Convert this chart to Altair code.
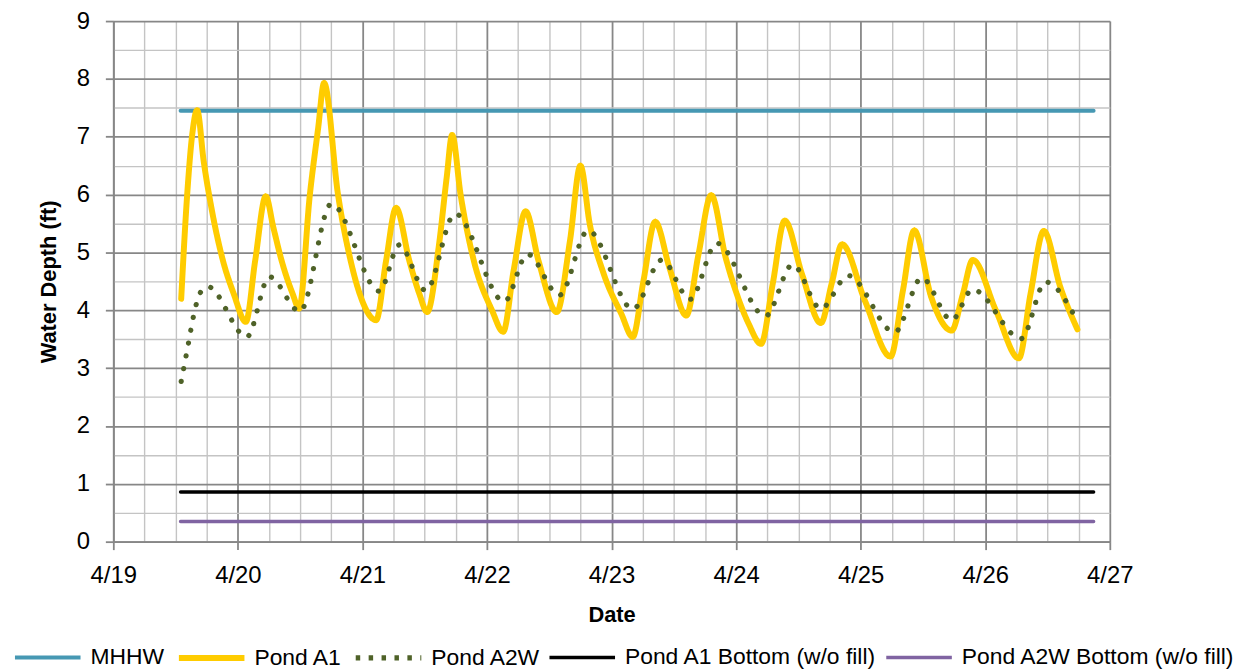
import altair as alt
import pandas as pd

# ---------------- data ----------------
series_names = ["MHHW", "Pond A1", "Pond A2W",
                "Pond A1 Bottom (w/o fill)", "Pond A2W Bottom (w/o fill)"]
series_colors = ["#4698B3", "#FFCC00", "#4F6228", "#000000", "#8064A2"]

# days after 4/19 00:00
a1_day = [0.545, 0.593, 0.633, 0.673, 0.726, 0.793, 0.880, 0.966, 1.064, 1.139,
          1.224, 1.285, 1.351, 1.439, 1.492, 1.578, 1.644, 1.692, 1.804, 1.905,
          1.977, 2.110, 2.190, 2.270, 2.376, 2.456, 2.520, 2.615, 2.676, 2.720,
          2.788, 2.894, 3.040, 3.130, 3.214, 3.310, 3.413, 3.560, 3.666, 3.750,
          3.825, 3.937, 4.078, 4.170, 4.256, 4.350, 4.464, 4.600, 4.698, 4.800,
          4.916, 4.996, 5.100, 5.200, 5.294, 5.390, 5.528, 5.680, 5.767, 5.850,
          6.033, 6.240, 6.339, 6.430, 6.566, 6.730, 6.818, 6.900, 7.085, 7.270,
          7.364, 7.470, 7.603, 7.740]
a1_val = [4.20, 6.00, 7.03, 7.46, 6.57, 5.71, 4.86, 4.29, 3.80, 4.86,
          5.97, 5.43, 4.86, 4.29, 4.03, 6.00, 7.14, 7.93, 6.00, 4.86,
          4.29, 3.83, 4.86, 5.77, 4.86, 4.29, 3.97, 5.14, 6.29, 7.03,
          6.00, 4.86, 4.00, 3.63, 4.69, 5.71, 4.86, 3.97, 5.20, 6.50,
          5.49, 4.63, 3.94, 3.54, 4.51, 5.53, 4.74, 3.91, 4.97, 5.99,
          4.91, 4.34, 3.77, 3.42, 4.46, 5.55, 4.63, 3.78, 4.46, 5.14,
          4.17, 3.20, 4.34, 5.38, 4.23, 3.65, 4.26, 4.87, 4.00, 3.17,
          4.29, 5.37, 4.40, 3.67]

a2w_day = [0.545, 0.604, 0.641, 0.697, 0.758, 1.072, 1.253, 1.498, 1.750, 2.136,
           2.296, 2.509, 2.743, 3.139, 3.325, 3.581, 3.812, 4.171, 4.403, 4.631,
           4.844, 5.235, 5.453, 5.680, 5.900, 6.273, 6.490, 6.730, 6.898, 7.289,
           7.484, 7.728]
a2w_val = [2.77, 3.44, 3.87, 4.30, 4.41, 3.54, 4.58, 3.98, 5.84, 4.33,
           5.13, 4.34, 5.67, 4.15, 4.97, 4.26, 5.38, 4.02, 4.87, 4.19,
           5.16, 3.90, 4.79, 4.03, 4.60, 3.62, 4.56, 3.83, 4.36, 3.51,
           4.49, 3.86]

flat_span = [0.54, 7.87]
mhhw_level = 7.45
a1_bottom_level = 0.86
a2w_bottom_level = 0.35

x_tick_values = [i * 0.25 for i in range(33)]
y_tick_values = [i * 0.5 for i in range(19)]

# ---------------- table ----------------
rows = []
for d in flat_span:
    rows.append({"series": "MHHW", "day": d, "value": mhhw_level})
for d, v in zip(a1_day, a1_val):
    rows.append({"series": "Pond A1", "day": d, "value": v})
for d, v in zip(a2w_day, a2w_val):
    rows.append({"series": "Pond A2W", "day": d, "value": v})
for d in flat_span:
    rows.append({"series": "Pond A1 Bottom (w/o fill)", "day": d, "value": a1_bottom_level})
for d in flat_span:
    rows.append({"series": "Pond A2W Bottom (w/o fill)", "day": d, "value": a2w_bottom_level})
df = pd.DataFrame(rows)

FONT = "Liberation Sans"
MAJOR = "#878787"
MINOR = "#c4c4c4"
major_x = "datum.value % 1 === 0"

x_axis = alt.Axis(
    values=x_tick_values,
    labelExpr="datum.value % 1 === 0 ? '4/' + (19 + datum.value) : ''",
    grid=True,
    gridColor={"condition": {"test": major_x, "value": MAJOR}, "value": MINOR},
    gridWidth={"condition": {"test": major_x, "value": 1.8}, "value": 1.4},
    tickColor={"condition": {"test": major_x, "value": MAJOR}, "value": "transparent"},
    tickSize=8, tickWidth=1.8,
    domainColor=MAJOR, domainWidth=1.8,
    labelFont=FONT, labelFontSize=24, labelColor="black", labelPadding=14,
    labelFlush=False, labelOverlap=False,
    title="Date", titleFont=FONT, titleFontSize=22, titleFontWeight="bold",
    titleColor="black", titlePadding=17,
)
y_axis = alt.Axis(
    values=y_tick_values,
    labelExpr="datum.value % 1 === 0 ? format(datum.value, 'd') : ''",
    grid=True,
    gridColor={"condition": {"test": major_x, "value": MAJOR}, "value": MINOR},
    gridWidth={"condition": {"test": major_x, "value": 1.8}, "value": 1.4},
    tickColor={"condition": {"test": major_x, "value": MAJOR}, "value": "transparent"},
    tickSize=8, tickWidth=1.8,
    domainColor=MAJOR, domainWidth=1.8,
    labelFont=FONT, labelFontSize=24, labelColor="black", labelPadding=16,
    labelOverlap=False,
    title="Water Depth (ft)", titleFont=FONT, titleFontSize=22, titleFontWeight="bold",
    titleColor="black", titlePadding=16,
)

x_enc = alt.X("day:Q", scale=alt.Scale(domain=[0, 8], nice=False), axis=x_axis)
y_enc = alt.Y("value:Q", scale=alt.Scale(domain=[0, 9], nice=False), axis=y_axis)
color_enc = alt.Color("series:N", scale=alt.Scale(domain=series_names, range=series_colors), title=None)
# legend symbols use butt caps, so the dotted entry gets short square dashes there
dash_enc = alt.StrokeDash("series:N", scale=alt.Scale(
    domain=series_names, range=[[1, 0], [1, 0], [4.5, 8.5], [1, 0], [1, 0]]), title=None)
width_enc = alt.StrokeWidth("series:N", scale=alt.Scale(
    type="ordinal", domain=series_names, range=[4, 6, 5.2, 3.5, 3.5]), title=None)

layers = []
for s in series_names:
    src = alt.Chart(df).transform_filter(alt.datum.series == s)
    if s == "Pond A2W":
        lyr = src.mark_line(interpolate="monotone", strokeCap="round", strokeJoin="round",
                            strokeDash=[0.1, 13]).encode(
            x=x_enc, y=y_enc, color=color_enc, strokeWidth=width_enc)
    else:
        lyr = src.mark_line(interpolate="monotone", strokeCap="round", strokeJoin="round").encode(
            x=x_enc, y=y_enc, color=color_enc, strokeDash=dash_enc, strokeWidth=width_enc)
    layers.append(lyr)

chart = alt.layer(*layers).properties(
    width=1003, height=524,
    autosize=alt.AutoSizeParams(type="none"),
    padding={"left": 106, "top": 11, "right": 125, "bottom": 126},
).configure_view(stroke=None).configure_legend(
    orient="none", legendX=-102, legendY=605, direction="horizontal", columns=5,
    symbolType="stroke", symbolSize=4356, labelFont=FONT, labelFontSize=23,
    labelColor="black", labelLimit=400, labelOffset=7, columnPadding=2,
)

chart.save("out.html", embed_options={"renderer": "svg", "actions": False})
